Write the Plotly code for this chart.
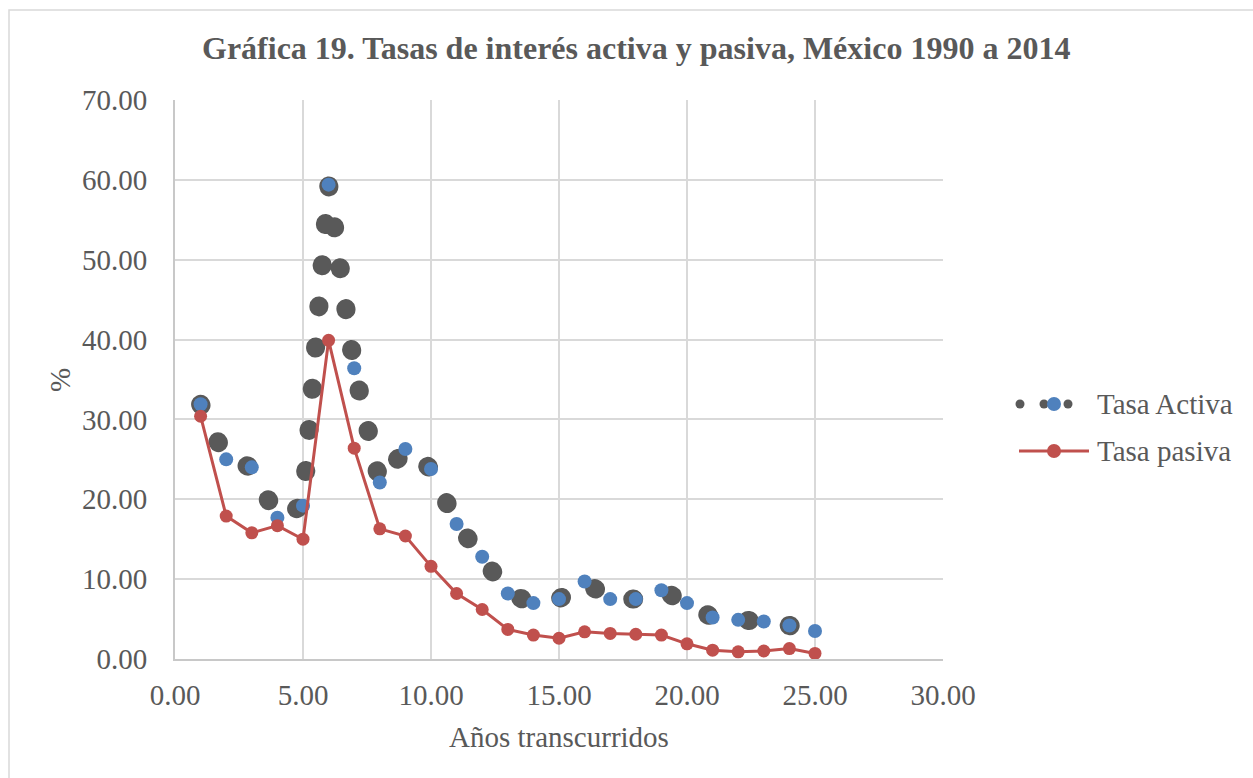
import plotly.graph_objects as go

# Años transcurridos (1 = 1990 ... 25 = 2014)
anios = list(range(1, 26))

# Tasa de interés activa (%)
tasa_activa = [31.9, 25.0, 24.0, 17.7, 19.2, 59.4, 36.4, 22.1, 26.3, 23.8,
               16.9, 12.8, 8.2, 7.0, 7.5, 9.7, 7.5, 7.5, 8.6, 7.0,
               5.2, 4.9, 4.7, 4.2, 3.5]

# Tasa de interés pasiva (%)
tasa_pasiva = [30.4, 17.9, 15.8, 16.7, 15.0, 39.9, 26.4, 16.3, 15.4, 11.6,
               8.2, 6.2, 3.7, 3.0, 2.6, 3.4, 3.2, 3.1, 3.0, 1.9,
               1.1, 0.9, 1.0, 1.3, 0.7]

titulo = "Gráfica 19. Tasas de interés activa y pasiva, México 1990 a 2014"
titulo_x = "Años transcurridos"
titulo_y = "%"
nombres = ["Tasa Activa", "Tasa pasiva"]

W, H = 1253, 778
L, R, T, B = 175, 943, 100, 659  # plot area in pixels

GRIS = "#595959"
AZUL = "#4F81BD"
ROJO = "#C0504D"
FUENTE = "Liberation Serif, Times New Roman, serif"
TAM = 29


def px(x):
    return (x - L) / (R - L)


def py(y):
    return (B - y) / (B - T)


fig = go.Figure()

fig.add_trace(go.Scatter(
    x=anios, y=tasa_activa, name=nombres[0], mode="lines+markers",
    line=dict(color=GRIS, width=19, dash="1px,40.3px", simplify=False),
    marker=dict(color=AZUL, size=14, line=dict(width=0)),
    showlegend=False,
))
fig.add_trace(go.Scatter(
    x=anios, y=tasa_pasiva, name=nombres[1], mode="lines+markers",
    line=dict(color=ROJO, width=3),
    marker=dict(color=ROJO, size=13, line=dict(width=0)),
    showlegend=False,
))

axis_common = dict(
    showgrid=True, gridcolor="#d9d9d9", gridwidth=1.5,
    zeroline=False, showline=True, linecolor="#c8c8c8", linewidth=2,
    ticks="", tickformat=".2f",
    tickfont=dict(family=FUENTE, size=TAM, color=GRIS),
)
fig.update_xaxes(range=[0, 30], dtick=5, tick0=0, ticklabelstandoff=9, **axis_common)
fig.update_yaxes(range=[0, 70], dtick=10, tick0=0, ticklabelstandoff=20, **axis_common)

annotations = [
    dict(text="<b>" + titulo + "</b>", x=px(636), y=py(48), xref="paper", yref="paper",
         showarrow=False, xanchor="center", yanchor="middle",
         font=dict(family=FUENTE, size=32, color=GRIS)),
    dict(text=titulo_x, x=px(559), y=py(737), xref="paper", yref="paper",
         showarrow=False, xanchor="center", yanchor="middle",
         font=dict(family=FUENTE, size=TAM, color=GRIS)),
    dict(text=titulo_y, x=px(60), y=py(380), xref="paper", yref="paper",
         showarrow=False, xanchor="center", yanchor="middle", textangle=-90,
         font=dict(family=FUENTE, size=TAM, color=GRIS)),
]

# Legend drawn by hand so the dotted sample matches the series style
ley_y = [404, 451]
for nombre, yy in zip(nombres, ley_y):
    annotations.append(dict(text=nombre, x=px(1095), y=py(yy), xref="paper", yref="paper",
                            showarrow=False, xanchor="left", yanchor="middle",
                            font=dict(family=FUENTE, size=TAM, color=GRIS)))

shapes = []


def circulo(cx, cy, d, color):
    return dict(type="circle", xref="paper", yref="paper",
                x0=px(cx - d / 2), x1=px(cx + d / 2),
                y0=py(cy + d / 2), y1=py(cy - d / 2),
                fillcolor=color, line=dict(width=0), layer="above")


for cx in (1020, 1044, 1068):
    shapes.append(circulo(cx, ley_y[0], 9, GRIS))
shapes.append(circulo(1054, ley_y[0], 14, AZUL))
shapes.append(dict(type="line", xref="paper", yref="paper",
                   x0=px(1019), x1=px(1089), y0=py(ley_y[1]), y1=py(ley_y[1]),
                   line=dict(color=ROJO, width=3), layer="above"))
shapes.append(circulo(1054, ley_y[1], 14, ROJO))

# Chart frame
shapes.append(dict(type="rect", xref="paper", yref="paper",
                   x0=px(9), x1=px(W + 20), y0=py(H + 20), y1=py(10),
                   line=dict(color="#d9d9d9", width=1.5), layer="below"))

fig.update_layout(
    width=W, height=H,
    margin=dict(l=L, r=W - R, t=T, b=H - B, pad=0),
    paper_bgcolor="white", plot_bgcolor="white",
    annotations=annotations, shapes=shapes,
    showlegend=False,
)

# Round caps turn the dotted line into circular dots
post = """
var gd = document.getElementById('{plot_id}');
var tr = gd.querySelectorAll('.scatterlayer .trace')[0];
tr.querySelectorAll('path.js-line').forEach(function(p){ p.style.strokeLinecap = 'round'; });
"""

fig.write_html("out.html", post_script=post)
